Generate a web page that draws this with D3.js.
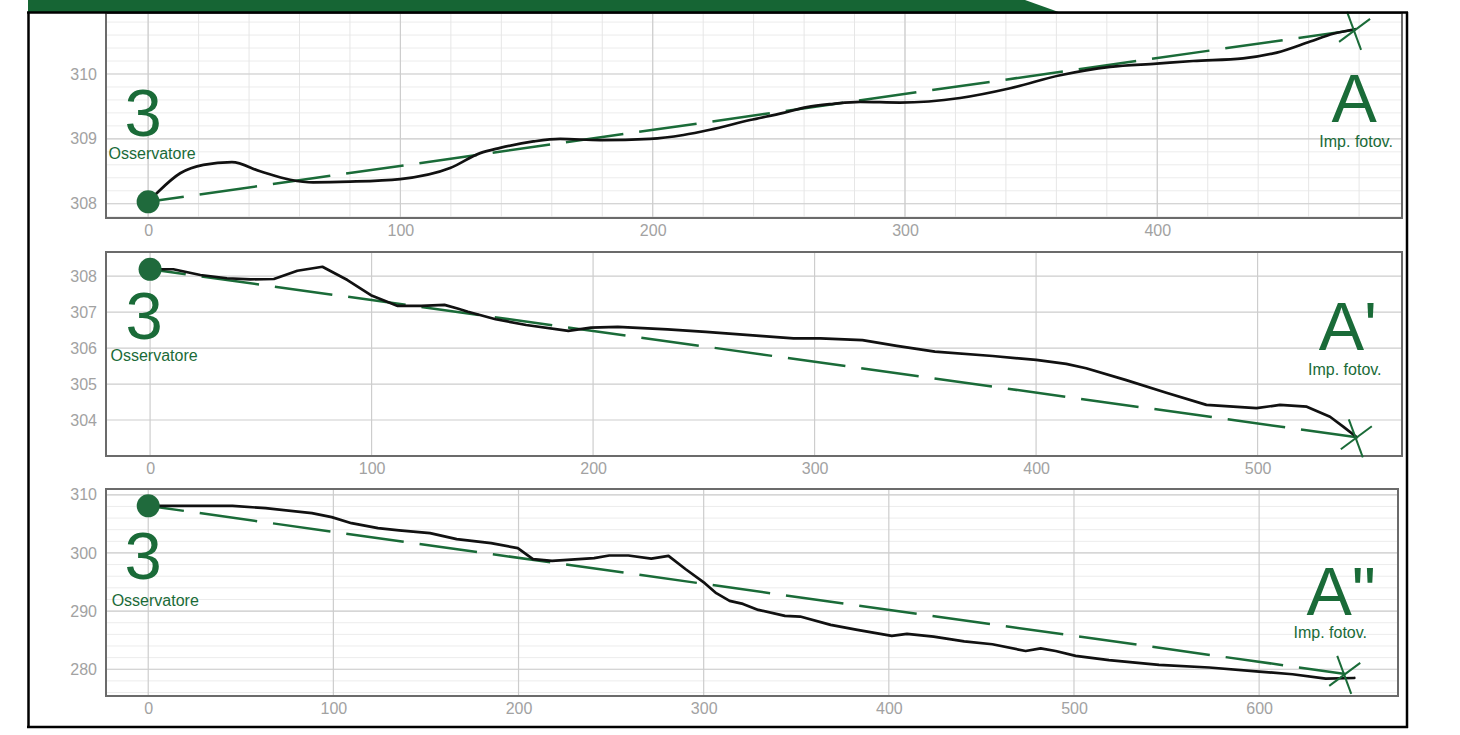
<!DOCTYPE html>
<html>
<head>
<meta charset="utf-8">
<script src="https://cdn.jsdelivr.net/npm/d3@7"></script>
<style>
  html, body { margin: 0; padding: 0; background: #fff; }
  svg { display: block; font-family: "Liberation Sans", Arial, sans-serif; }
</style>
</head>
<body>
<svg id="chart" width="1460" height="735"></svg>
<script>
// ---- Terrain profiles: distance (m) and elevation (m a.s.l.) ----
const profileAX = [0, 3.6, 12.7, 21.9, 33.2, 44.4, 56.3, 65.4, 80, 99.9, 119.7, 131.6, 139.5, 152.7, 163.3, 179.2, 199, 212.2, 222.7, 238.6, 251.8, 261.1, 271.6, 282.2, 298, 321.8, 341.7, 361.5, 381.3, 399.8, 414.2, 434, 447.4, 460.6, 469.7, 478.4];
const profileAY = [308.03, 308.17, 308.47, 308.6, 308.64, 308.5, 308.37, 308.33, 308.34, 308.38, 308.55, 308.78, 308.86, 308.96, 309.0, 308.98, 309.0, 309.06, 309.14, 309.29, 309.4, 309.49, 309.54, 309.57, 309.56, 309.63, 309.78, 309.98, 310.11, 310.16, 310.2, 310.24, 310.33, 310.5, 310.62, 310.69];

const profileA1X = [0, 10.5, 22.7, 34.7, 45.3, 55.9, 66.5, 77.8, 89.1, 99.7, 111.8, 122.4, 132.9, 138.8, 143.5, 156, 169.8, 188.8, 199.1, 211.2, 233.6, 250.9, 276.7, 290.5, 302.6, 321.6, 337.1, 354.3, 380.4, 400, 413.6, 422.6, 440.7, 458.8, 476.9, 489, 499.5, 510.1, 522.2, 532.7, 538.8, 544.8];
const profileA1Y = [308.19, 308.19, 308.03, 307.94, 307.91, 307.92, 308.15, 308.26, 307.89, 307.47, 307.17, 307.17, 307.2, 307.1, 307.01, 306.8, 306.64, 306.48, 306.57, 306.59, 306.52, 306.45, 306.33, 306.27, 306.27, 306.22, 306.06, 305.9, 305.78, 305.67, 305.56, 305.44, 305.11, 304.76, 304.42, 304.37, 304.33, 304.42, 304.37, 304.09, 303.81, 303.52];

const profileA2X = [0, 27.7, 45.5, 63.4, 88.4, 99.1, 109.8, 124.1, 135.5, 152.2, 166.6, 185.2, 199.6, 207.8, 218.1, 240.8, 249, 259.3, 271.7, 281, 290.3, 300.6, 306.8, 314, 321.2, 329.5, 343.9, 352.1, 368.6, 383, 401.6, 409.8, 424.2, 440.7, 455.9, 473.9, 482, 490.1, 500.9, 518.9, 545.9, 573, 600, 618, 636, 651.4];
const profileA2Y = [308.1, 308.1, 308.1, 307.7, 306.84, 306.16, 305.12, 304.26, 303.9, 303.4, 302.37, 301.68, 300.82, 298.93, 298.64, 299.1, 299.56, 299.56, 299.04, 299.5, 297.2, 294.8, 293.08, 291.76, 291.24, 290.21, 289.17, 289.06, 287.63, 286.76, 285.73, 286.07, 285.62, 284.8, 284.3, 283.14, 283.6, 283.14, 282.3, 281.56, 280.75, 280.3, 279.6, 279.14, 278.4, 278.5];

// Observer (start) and target (end) of each sight line: [distance, elevation]
const observerPoints = [[0, 308.03], [0, 308.19], [0, 308.1]];
const targetPoints = [[478.4, 310.68], [544.8, 303.52], [646.5, 279.2]];

// Labels
const observerNumber = ["3", "3", "3"];
const observerLabel = "Osservatore";
const targetNames = ["A", "A'", "A\""];
const targetLabel = "Imp. fotov.";

// Axis ticks
const xTicksA = [0, 100, 200, 300, 400];
const yTicksA = [308, 309, 310];
const xTicksA1 = [0, 100, 200, 300, 400, 500];
const yTicksA1 = [304, 305, 306, 307, 308];
const xTicksA2 = [0, 100, 200, 300, 400, 500, 600];
const yTicksA2 = [280, 290, 300, 310];

// ---- Layout ----
const GREEN = "#1a6b38";
const svg = d3.select("#chart");

const panels = [
  {
    xs: profileAX, ys: profileAY, xTicks: xTicksA, yTicks: yTicksA,
    xDom: [-16.7, 497], yDom: [307.78, 310.94],
    left: 106, right: 1402, top: 13, bottom: 218,
    minorX: 20, minorY: 0.2, curve: d3.curveMonotoneX,
    numPos: [-5, -66], obsPos: [4, -43], namePos: [-1, 92], tgtPos: [1, 117]
  },
  {
    xs: profileA1X, ys: profileA1Y, xTicks: xTicksA1, yTicks: yTicksA1,
    xDom: [-19.9, 565.2], yDom: [303.0, 308.67],
    left: 106, right: 1402, top: 252, bottom: 456,
    minorX: null, minorY: null, curve: d3.curveLinear,
    numPos: [-6, 70], obsPos: [4, 92], namePos: [-9, -87], tgtPos: [-12, -62]
  },
  {
    xs: profileA2X, ys: profileA2Y, xTicks: xTicksA2, yTicks: yTicksA2,
    xDom: [-22.8, 675], yDom: [275.4, 311],
    left: 106, right: 1398, top: 489, bottom: 696,
    minorX: null, minorY: 2, curve: d3.curveLinear,
    numPos: [-5, 73], obsPos: [7, 100], namePos: [-4, -59], tgtPos: [-15, -36]
  }
];

// Header band
svg.append("path")
  .attr("d", "M28,0 L1025,0 L1060,12.5 L28,12.5 Z")
  .attr("fill", "#166534");

panels.forEach((p, i) => {
  const x = d3.scaleLinear().domain(p.xDom).range([p.left, p.right]);
  const y = d3.scaleLinear().domain(p.yDom).range([p.bottom, p.top]);
  const g = svg.append("g");

  // minor grid
  if (p.minorY) {
    const ticks = d3.range(Math.ceil(p.yDom[0] / p.minorY), Math.floor(p.yDom[1] / p.minorY) + 1)
      .map(k => +(k * p.minorY).toFixed(3));
    g.selectAll(".my").data(ticks).join("line")
      .attr("x1", p.left).attr("x2", p.right)
      .attr("y1", d => y(d)).attr("y2", d => y(d))
      .attr("stroke", "#ececec").attr("stroke-width", 1);
  }
  if (p.minorX) {
    const ticks = d3.range(0, p.xDom[1], p.minorX);
    g.selectAll(".mx").data(ticks).join("line")
      .attr("x1", d => x(d)).attr("x2", d => x(d))
      .attr("y1", p.top).attr("y2", p.bottom)
      .attr("stroke", "#e6e6e6").attr("stroke-width", 1);
  }
  // major grid
  g.selectAll(".gy").data(p.yTicks).join("line")
    .attr("x1", p.left).attr("x2", p.right)
    .attr("y1", d => y(d)).attr("y2", d => y(d))
    .attr("stroke", "#cdcdcd").attr("stroke-width", 1.2);
  g.selectAll(".gx").data(p.xTicks).join("line")
    .attr("x1", d => x(d)).attr("x2", d => x(d))
    .attr("y1", p.top).attr("y2", p.bottom)
    .attr("stroke", "#cdcdcd").attr("stroke-width", 1.2);

  // plot frame
  g.append("rect")
    .attr("x", p.left).attr("y", p.top)
    .attr("width", p.right - p.left).attr("height", p.bottom - p.top)
    .attr("fill", "none").attr("stroke", "#6b6b6b").attr("stroke-width", 2);

  // axes
  const xa = g.append("g").attr("transform", `translate(0,${p.bottom})`)
    .call(d3.axisBottom(x).tickValues(p.xTicks).tickFormat(d3.format("d")).tickSize(0).tickPadding(7));
  const ya = g.append("g").attr("transform", `translate(${p.left},0)`)
    .call(d3.axisLeft(y).tickValues(p.yTicks).tickFormat(d3.format("d")).tickSize(0).tickPadding(9));
  [xa, ya].forEach(a => {
    a.select(".domain").remove();
    a.selectAll("text").attr("fill", "#a2a2a2")
      .style("font-size", "16px")
      .style("font-family", "\"Liberation Sans\", Arial, sans-serif");
  });

  // sight line (dashed)
  const o = observerPoints[i], t = targetPoints[i];
  g.append("line")
    .attr("x1", x(o[0])).attr("y1", y(o[1]))
    .attr("x2", x(t[0])).attr("y2", y(t[1]))
    .attr("stroke", GREEN).attr("stroke-width", 2.5)
    .attr("stroke-dasharray", "58,16").attr("stroke-dashoffset", 22);

  // terrain profile
  const pts = p.xs.map((d, k) => [d, p.ys[k]]);
  g.append("path")
    .datum(pts)
    .attr("d", d3.line().x(d => x(d[0])).y(d => y(d[1])).curve(p.curve))
    .attr("fill", "none").attr("stroke", "#111").attr("stroke-width", 2.7)
    .attr("stroke-linejoin", "round").attr("stroke-linecap", "round");

  // target cross
  const tx = x(t[0]), ty = y(t[1]);
  g.append("line").attr("x1", tx - 8).attr("y1", ty - 18).attr("x2", tx + 6).attr("y2", ty + 20)
    .attr("stroke", GREEN).attr("stroke-width", 2);
  g.append("line").attr("x1", tx - 16).attr("y1", ty + 12).attr("x2", tx + 15).attr("y2", ty - 11)
    .attr("stroke", GREEN).attr("stroke-width", 2);

  // observer marker
  const ox = x(o[0]), oy = y(o[1]);
  g.append("circle").attr("cx", ox).attr("cy", oy).attr("r", 11.5).attr("fill", "#1f6a3c");

  // labels
  g.append("text").attr("x", ox + p.numPos[0]).attr("y", oy + p.numPos[1])
    .attr("text-anchor", "middle").attr("fill", GREEN)
    .style("font-size", "67px").text(observerNumber[i]);
  g.append("text").attr("x", ox + p.obsPos[0]).attr("y", oy + p.obsPos[1])
    .attr("text-anchor", "middle").attr("fill", GREEN)
    .style("font-size", "16px").text(observerLabel);
  g.append("text").attr("x", tx + p.namePos[0]).attr("y", ty + p.namePos[1])
    .attr("text-anchor", "middle").attr("fill", GREEN)
    .style("font-size", "68px").text(targetNames[i]);
  g.append("text").attr("x", tx + p.tgtPos[0]).attr("y", ty + p.tgtPos[1])
    .attr("text-anchor", "middle").attr("fill", GREEN)
    .style("font-size", "16px").text(targetLabel);
});

// outer border
svg.append("line").attr("x1", 27).attr("x2", 1408).attr("y1", 12.5).attr("y2", 12.5)
  .attr("stroke", "#000").attr("stroke-width", 2.5);
svg.append("line").attr("x1", 28.5).attr("x2", 28.5).attr("y1", 12).attr("y2", 728)
  .attr("stroke", "#000").attr("stroke-width", 2.5);
svg.append("line").attr("x1", 1407).attr("x2", 1407).attr("y1", 12).attr("y2", 728)
  .attr("stroke", "#000").attr("stroke-width", 2.5);
svg.append("line").attr("x1", 27).attr("x2", 1408).attr("y1", 727).attr("y2", 727)
  .attr("stroke", "#000").attr("stroke-width", 2.5);
</script>
</body>
</html>
